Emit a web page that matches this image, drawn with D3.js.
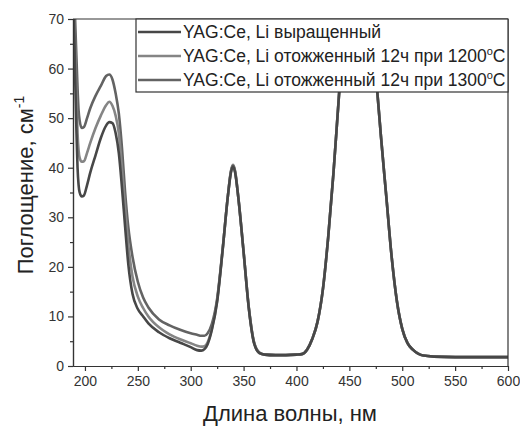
<!DOCTYPE html>
<html><head><meta charset="utf-8">
<script src="https://cdn.jsdelivr.net/npm/d3@7"></script>
<style>body{margin:0;background:#fff;}svg{display:block;font-family:"Liberation Sans",Arial,sans-serif;}</style>
</head><body><svg id="c" width="520" height="427"></svg>
<script>
const wavelength = [189,190,191,192,193,194,195,197,199,202,205,210,215,220,223,226,229,232,235,238,241,245,250,255,260,270,280,290,300,306,310,313,316,320,325,330,335,338,340,342,345,350,355,360,365,370,380,390,400,405,410,415,420,425,430,435,440,445,450,455,460,465,470,475,480,485,490,495,500,505,510,515,520,530,550,575,600];
const grown = [75,66,56,47,40,36.5,35,34.2,34.4,36.5,39,42.5,46,48.5,49.2,49,47,43,36,28,20.5,14.5,11.5,10,8.6,6.8,5.6,4.7,3.8,3.2,3.1,3.4,4.4,7.3,13,23,34,39,40.3,39,34,23,11.5,4.5,2.6,2.3,2.2,2.2,2.3,2.4,3.3,5.5,9,15.5,26,39,54,68,78,84,85,81,72,59,46,34,22,13,7.5,4.6,3.3,2.5,2.1,1.9,1.8,1.8,1.8];
const annealed1200 = [76,70,62,54,47,43.5,42,41.2,41.3,43,45,48,50.5,52.6,53.3,52.5,50.5,47,40,32,24.5,18,14,11.7,10,7.8,6.4,5.4,4.6,4.1,3.9,4.0,4.8,7.5,13.2,23,34,39.2,40.5,39.2,34,23,11.6,4.6,2.6,2.3,2.2,2.2,2.3,2.4,3.3,5.5,9,15.5,26,39,54,68,78,84,85,81,72,59,46,34,22,13,7.5,4.6,3.3,2.5,2.1,1.9,1.8,1.8,1.8];
const annealed1300 = [78,74,68,62,56,51.5,49.5,48,48.2,50,52,54.5,56.5,58.5,58.8,57.8,55,51,44,35,28,22,17,13.8,11.8,9.4,8.2,7.3,6.6,6.3,6.1,6.1,6.6,8.5,13.6,23.2,34,39.3,40.6,39.3,34,23,11.7,4.7,2.7,2.3,2.2,2.2,2.3,2.4,3.3,5.5,9,15.5,26,39,54,68,78,84,85,81,72,59,46,34,22,13,7.5,4.6,3.3,2.5,2.1,1.9,1.8,1.8,1.8];
const seriesNames = ["YAG:Ce, Li выращенный","YAG:Ce, Li отожженный 12ч при 1200","YAG:Ce, Li отожженный 12ч при 1300"];
const seriesData = [grown, annealed1200, annealed1300];
const seriesColors = ["#474747","#858585","#636363"];
const xTicks = [200,250,300,350,400,450,500,550,600];
const yTicks = [0,10,20,30,40,50,60,70];

const svg = d3.select("#c");
const L=73,R=508,T=19,B=366;
const x = d3.scaleLinear().domain([188.7,600]).range([L,R]);
const y = d3.scaleLinear().domain([0,70]).range([B,T]);
const axisColor="#333";

svg.append("defs").append("clipPath").attr("id","clip").append("rect")
  .attr("x",L).attr("y",T).attr("width",R-L).attr("height",B-T);

const line = d3.line().x((d,i)=>x(wavelength[i])).y(d=>y(d)).curve(d3.curveMonotoneX);
const g = svg.append("g").attr("clip-path","url(#clip)");
[2,1,0].forEach(k=>{
  g.append("path").datum(seriesData[k]).attr("d",line).attr("fill","none")
   .attr("stroke",seriesColors[k]).attr("stroke-width",2.6).attr("stroke-linejoin","round");
});

// axes
const xAx = svg.append("g").attr("transform",`translate(0,${B})`)
  .call(d3.axisBottom(x).tickValues(xTicks).tickSize(5).tickPadding(5).tickSizeOuter(0));
const xMin = svg.append("g").attr("transform",`translate(0,${B})`)
  .call(d3.axisBottom(x).tickValues(d3.range(225,600,50)).tickSize(3).tickFormat("").tickSizeOuter(0));
const yAx = svg.append("g").attr("transform",`translate(${L},0)`)
  .call(d3.axisLeft(y).tickValues(yTicks).tickSize(5).tickPadding(4).tickSizeOuter(0));
const yMin = svg.append("g").attr("transform",`translate(${L},0)`)
  .call(d3.axisLeft(y).tickValues(d3.range(5,70,10)).tickSize(3).tickFormat("").tickSizeOuter(0));
[xAx,xMin,yAx,yMin].forEach(a=>{
  a.selectAll("path,line").attr("stroke",axisColor).attr("stroke-width",1.2);
  a.selectAll("text").attr("fill","#333").attr("font-size",14).attr("font-family","Liberation Sans, Arial, sans-serif");
});
// frame top/right
svg.append("line").attr("x1",L).attr("x2",R).attr("y1",T).attr("y2",T).attr("stroke",axisColor).attr("stroke-width",1.2);
svg.append("line").attr("x1",R).attr("x2",R).attr("y1",T).attr("y2",B).attr("stroke",axisColor).attr("stroke-width",1.2);

// legend
const lg = svg.append("g");
lg.append("rect").attr("x",136).attr("y",T).attr("width",R-136).attr("height",73)
  .attr("fill","#fff").attr("stroke",axisColor).attr("stroke-width",1.2);
seriesNames.forEach((n,i)=>{
  const yy = 32 + i*24;
  lg.append("line").attr("x1",138).attr("x2",181).attr("y1",yy).attr("y2",yy)
    .attr("stroke",seriesColors[i]).attr("stroke-width",2.6);
  const t = lg.append("text").attr("x",183).attr("y",yy+6).attr("font-size",17.5).attr("fill","#222").text(n);
  if(i>0){
    t.append("tspan").attr("font-size",11).attr("dy",-7).text("o");
    t.append("tspan").attr("dy",7).text("C");
  }
});

// titles
svg.append("text").attr("x",290).attr("y",421).attr("text-anchor","middle")
  .attr("font-size",22).attr("fill","#222").text("Длина волны, нм");
const yt = svg.append("text").attr("transform","translate(33,185) rotate(-90)").attr("text-anchor","middle")
  .attr("font-size",22).attr("fill","#222");
yt.append("tspan").text("Поглощение, см");
yt.append("tspan").attr("font-size",14).attr("dy",-9).text("-1");
</script></body></html>
